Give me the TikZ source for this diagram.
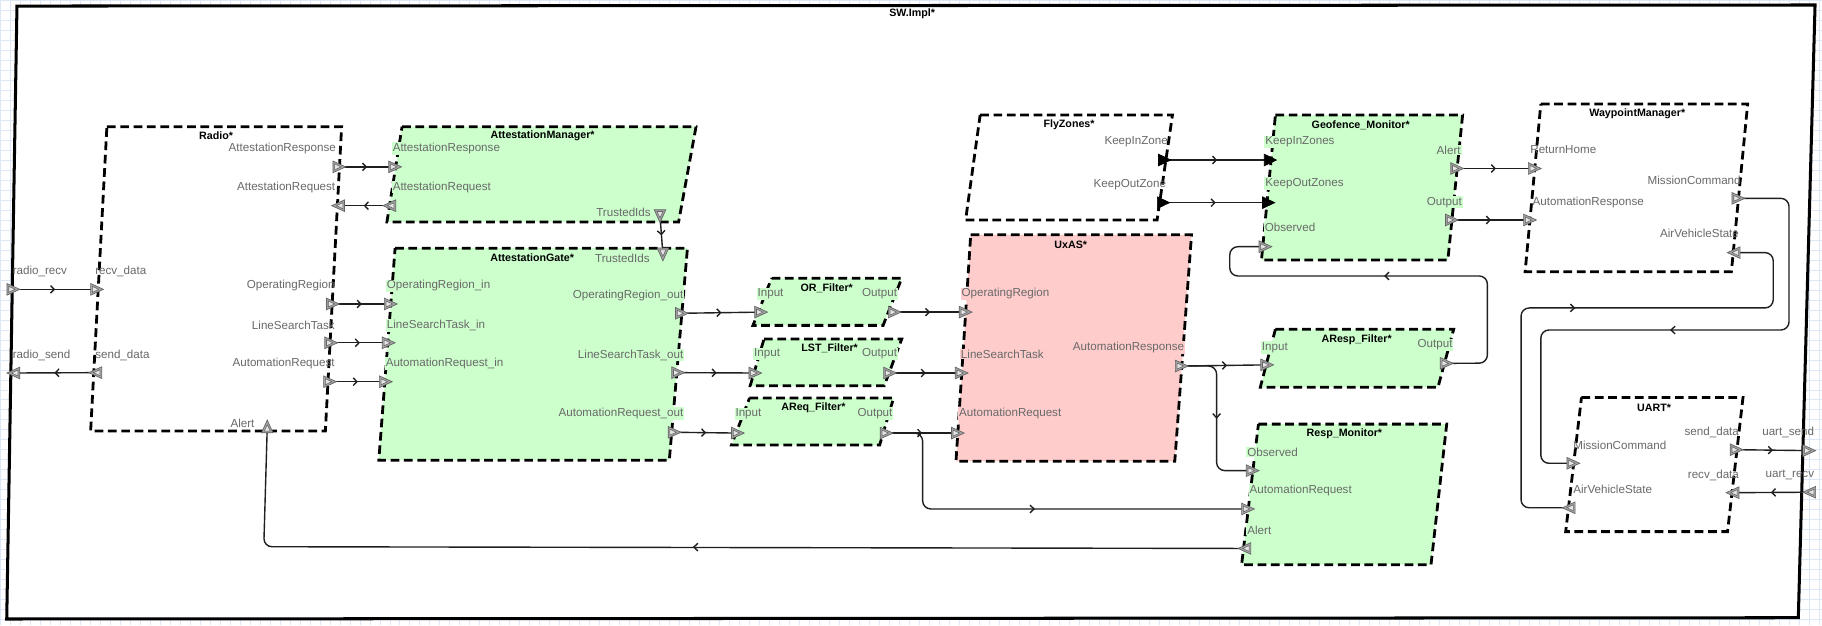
\documentclass[tikz,border=0pt]{standalone}
\usepackage{fontspec}
\setmainfont{Liberation Sans}
\usetikzlibrary{arrows.meta,decorations.markings}
\definecolor{blkgreen}{RGB}{204,255,204}
\definecolor{blkpink}{RGB}{255,204,204}
\definecolor{lblgray}{RGB}{105,105,105}
\definecolor{gridblue}{RGB}{220,232,247}
\definecolor{portfill}{RGB}{165,165,165}
\definecolor{portline}{RGB}{100,100,100}
\tikzset{
  blockbox/.style={draw=black, line width=2.4pt, dash pattern=on 7.5pt off 4pt, line join=miter},
  conn/.style={draw=black!88, line width=1.2pt, rounded corners=7pt},
  midarr/.style={postaction={decorate}, decoration={markings, mark=at position #1 with {\arrow{Straight Barb[length=3.2pt,width=6.6pt]}}}},
  midarr/.default=0.5,
  lbl/.style={text=lblgray, font=\fontsize{10}{12}\selectfont, inner sep=0.8pt},
  lblg/.style={lbl, fill=blkgreen},
  lblp/.style={lbl, fill=blkpink},
  ttl/.style={text=black, font=\bfseries\fontsize{9.2}{11}\selectfont, inner sep=0pt},
  portmk/.pic={
    \filldraw[fill=portfill, draw=portline, line width=0.6pt] (-5.5,-5) -- (5.5,0) -- (-5.5,5) -- cycle;
    \filldraw[fill=white!80!gray, draw=portline, line width=0.5pt] (-4,-2.6) -- (1.5,0) -- (-4,2.6) -- cycle;
  },
  blkmk/.pic={
    \filldraw[fill=black, draw=black, line width=0.6pt] (-5,-5) -- (5.5,0) -- (-5,5) -- cycle;
  },
  chev/.pic={
    \draw[black!88, line width=1.2pt, line join=miter] (-2.6,-3.3) -- (0.9,0) -- (-2.6,3.3);
  },
}
\begin{document}
\begin{tikzpicture}[x=1pt,y=-1pt]
\useasboundingbox (0,0) rectangle (1568,538);
\draw[gridblue, line width=0.4pt, step=8.6pt] (0pt,0pt) grid (1568pt,-538pt);

% ---------- outer frame ----------
\filldraw[fill=white, draw=black, line width=2.6pt, line join=miter] (14.6,5.2) -- (1562,4.3) -- (1547.6,531.6) -- (5.8,532.7) -- cycle;
\node[ttl] (tSW) at (785,11.5) {SW.Impl*};

% ---------- blocks ----------
\filldraw[blockbox, fill=white] (92,109) -- (294,109) -- (280,371) -- (78,371) -- cycle;
\filldraw[blockbox, fill=blkgreen] (346,109) -- (599,109) -- (584,191) -- (333,191) -- cycle;
\filldraw[blockbox, fill=blkgreen] (340,213.6) -- (591.6,213.6) -- (576,396) -- (326,396) -- cycle;
\filldraw[blockbox, fill=blkgreen] (664,239.5) -- (776,239.5) -- (760,280) -- (648,280) -- cycle;
\filldraw[blockbox, fill=blkgreen] (657.5,291.8) -- (776,291.8) -- (761,332) -- (645.6,332) -- cycle;
\filldraw[blockbox, fill=blkgreen] (645,342.6) -- (769,342.6) -- (757,383) -- (629.5,383) -- cycle;
\filldraw[blockbox, fill=blkpink] (835.4,202) -- (1025.4,202) -- (1011,397) -- (822.7,397) -- cycle;
\filldraw[blockbox, fill=white] (843.5,99) -- (1009,99) -- (995.8,189.3) -- (831,189.3) -- cycle;
\filldraw[blockbox, fill=blkgreen] (1097.6,99) -- (1258.7,99) -- (1246,223.8) -- (1085.6,223.8) -- cycle;
\filldraw[blockbox, fill=white] (1326,89.5) -- (1504,89.5) -- (1490,233.8) -- (1312.5,233.8) -- cycle;
\filldraw[blockbox, fill=blkgreen] (1097.6,283.4) -- (1251,283.4) -- (1237.5,333.3) -- (1084.6,333.3) -- cycle;
\filldraw[blockbox, fill=blkgreen] (1083,365) -- (1245,365) -- (1231.5,486) -- (1068.5,486) -- cycle;
\filldraw[blockbox, fill=white] (1361,342) -- (1500,342) -- (1486.7,457.5) -- (1347.4,457.5) -- cycle;

% ---------- titles ----------
\node[ttl] (tRadio) at (186,117) {Radio*};
\node[ttl] (tAM) at (467,117) {AttestationManager*};
\node[ttl] (tAG) at (458,222) {AttestationGate*};
\node[ttl] (tORF) at (711.5,248) {OR\_Filter*};
\node[ttl] (tLSTF) at (714,300) {LST\_Filter*};
\node[ttl] (tARQF) at (700,351) {AReq\_Filter*};
\node[ttl] (tUx) at (921.5,211) {UxAS*};
\node[ttl] (tFZ) at (920,107.6) {FlyZones*};
\node[ttl] (tGM) at (1171,107.6) {Geofence\_Monitor*};
\node[ttl] (tWM) at (1409,98) {WaypointManager*};
\node[ttl] (tARSF) at (1167.5,292) {AResp\_Filter*};
\node[ttl] (tRM) at (1157,373.6) {Resp\_Monitor*};
\node[ttl] (tUART) at (1423.5,351) {UART*};

% ---------- port coordinates ----------
\coordinate (fRRecv) at (11.5,249);   \coordinate (fRSend) at (11.5,321);
\coordinate (fUSend) at (1557,387.8); \coordinate (fURecv) at (1557,423.6);
\coordinate (rAResp) at (292,143.6);  \coordinate (rAReq) at (291,177);
\coordinate (rOR) at (286.5,261.6);   \coordinate (rLST) at (285,295);
\coordinate (rAR) at (284,328.5);     \coordinate (rAlert) at (230,367);
\coordinate (rRecv) at (83.5,249);    \coordinate (rSend) at (82,320.7);
\coordinate (amAResp) at (340,143.6); \coordinate (amAReq) at (335,177);
\coordinate (amTI) at (568,186);
\coordinate (agTI) at (570.5,219);    \coordinate (agORin) at (336.3,261.6);
\coordinate (agLSTin) at (334.5,295); \coordinate (agARin) at (332,328.5);
\coordinate (agORout) at (586.8,269.6); \coordinate (agLSTout) at (583.6,320.7);
\coordinate (agARout) at (580.5,372);
\coordinate (orIn) at (655,268.6);    \coordinate (orOut) at (770,268.6);
\coordinate (lstIn) at (650,321);     \coordinate (lstOut) at (766,321);
\coordinate (arqIn) at (635,372.7);   \coordinate (arqOut) at (763,372.7);
\coordinate (uxOR) at (831,268.6);    \coordinate (uxLST) at (827.6,321);
\coordinate (uxAR) at (824.3,372.7);  \coordinate (uxAResp) at (1017,315);
\coordinate (fzKI) at (1002,137.7);   \coordinate (fzKO) at (1001,174.4);
\coordinate (gmKI) at (1093,137.7);   \coordinate (gmKO) at (1091.5,174.4);
\coordinate (gmObs) at (1089,212.3);  \coordinate (gmAlert) at (1254,145);
\coordinate (gmOut) at (1249.5,189.3);
\coordinate (wmRH) at (1320.8,145);   \coordinate (wmAResp) at (1316.7,189.3);
\coordinate (wmMC) at (1496,170.7);   \coordinate (wmAVS) at (1492,217.4);
\coordinate (arsIn) at (1090.5,314);  \coordinate (arsOut) at (1245,312.7);
\coordinate (rmObs) at (1078,405);    \coordinate (rmAR) at (1074,438);
\coordinate (rmAlert) at (1071,472);
\coordinate (uMC) at (1354,398.7);    \coordinate (uAVS) at (1350,437);
\coordinate (uSend) at (1494.5,387);  \coordinate (uRecv) at (1491,424);

% ---------- connectors ----------
\draw[conn, midarr] (rAResp) -- (amAResp);
\draw[conn, midarr] (amAReq) -- (rAReq);
\draw[conn, midarr] (amTI) -- (agTI);
\draw[conn, midarr] (fRRecv) -- (rRecv);
\draw[conn, midarr] (rSend) -- (fRSend);
\draw[conn, midarr] (rOR) -- (agORin);
\draw[conn, midarr] (rLST) -- (agLSTin);
\draw[conn, midarr] (rAR) -- (agARin);
\draw[conn, midarr] (agORout) -- (orIn);
\draw[conn, midarr] (agLSTout) -- (lstIn);
\draw[conn, midarr] (agARout) -- (arqIn);
\draw[conn, midarr] (orOut) -- (uxOR);
\draw[conn, midarr] (lstOut) -- (uxLST);
\draw[conn, midarr] (arqOut) -- (uxAR);
\draw[conn] (arqOut) -- (794,372.7) -- (794,438) -- (rmAR);
\pic at (889,438) {chev};
\draw[conn, midarr=0.53] (uxAResp) -- (arsIn);
\draw[conn] (uxAResp) -- (1047,315) -- (1047,405) -- (rmObs);
\pic[rotate=-90] at (1047,358.6) {chev};
\draw[conn] (arsOut) -- (1280,312.5) -- (1280,237.5) -- (1058.3,237.5) -- (1058.3,212.3) -- (gmObs);
\pic[rotate=180] at (1192.8,237.5) {chev};
\draw[conn, midarr] (fzKI) -- (gmKI);
\draw[conn, midarr] (fzKO) -- (gmKO);
\draw[conn, midarr] (gmAlert) -- (wmRH);
\draw[conn, midarr] (gmOut) -- (wmAResp);
\draw[conn] (wmMC) -- (1539.6,170.7) -- (1539.6,284) -- (1326,284) -- (1326,398.7) -- (uMC);
\pic[rotate=180] at (1439,284) {chev};
\draw[conn] (uAVS) -- (1309,437) -- (1309,265) -- (1526,265) -- (1526,217.4) -- (wmAVS);
\pic at (1354,265) {chev};
\draw[conn, midarr] (fURecv) -- (uRecv);
\draw[conn, midarr] (uSend) -- (fUSend);
\draw[conn] (rmAlert) -- (227,470.5) -- (rAlert);
\pic[rotate=180] at (598,470.8) {chev};

% ---------- port markers ----------
\foreach \p in {rAResp,rOR,rLST,rAR,rRecv,fRRecv,amAResp,agORin,agLSTin,agARin,agORout,agLSTout,agARout,orIn,orOut,lstIn,lstOut,arqIn,arqOut,uxOR,uxLST,uxAR,uxAResp,gmObs,gmAlert,gmOut,wmRH,wmAResp,wmMC,arsIn,arsOut,rmObs,rmAR,uMC,uSend,fUSend}
  {\pic at (\p) {portmk};}
\foreach \p in {rAReq,amAReq,rSend,fRSend,wmAVS,rmAlert,uAVS,uRecv,fURecv}
  {\pic[rotate=180] at (\p) {portmk};}
\pic[rotate=-90] at (amTI) {portmk};
\pic[rotate=-90] at (agTI) {portmk};
\pic[rotate=90] at (rAlert) {portmk};
\foreach \p in {fzKI,fzKO,gmKI,gmKO}
  {\pic at (\p) {blkmk};}

% ---------- port labels ----------
\node[lbl, anchor=west] (lfRRecv) at (10,234) {radio\_recv};
\node[lbl, anchor=west] (lfRSend) at (10,305.5) {radio\_send};
\node[lbl, anchor=west] (lfUSend) at (1515.6,372) {uart\_send};
\node[lbl, anchor=west] (lfURecv) at (1518.5,409) {uart\_recv};

\node[lbl, anchor=east] (lrAResp) at (290,128) {AttestationResponse};
\node[lbl, anchor=east] (lrAReq) at (289.5,161) {AttestationRequest};
\node[lbl, anchor=east] (lrOR) at (289,246) {OperatingRegion};
\node[lbl, anchor=east] (lrLST) at (289,280) {LineSearchTask};
\node[lbl, anchor=east] (lrAR) at (289,312.6) {AutomationRequest};
\node[lbl, anchor=east] (lrAlert) at (220,364) {Alert};
\node[lbl, anchor=west] (lrRecv) at (81,234) {recv\_data};
\node[lbl, anchor=west] (lrSend) at (81,305.5) {send\_data};

\node[lblg, anchor=west] (lamAResp) at (337,128) {AttestationResponse};
\node[lblg, anchor=west] (lamAReq) at (337,161) {AttestationRequest};
\node[lblg, anchor=east] (lamTI) at (561,183) {TrustedIds};

\node[lblg, anchor=east] (lagTI) at (560,222) {TrustedIds};
\node[lblg, anchor=west] (lagORin) at (332,246) {OperatingRegion\_in};
\node[lblg, anchor=west] (lagLSTin) at (332,280) {LineSearchTask\_in};
\node[lblg, anchor=west] (lagARin) at (331,313) {AutomationRequest\_in};
\node[lblg, anchor=east] (lagORout) at (589,254) {OperatingRegion\_out};
\node[lblg, anchor=east] (lagLSTout) at (589,305.6) {LineSearchTask\_out};
\node[lblg, anchor=east] (lagARout) at (589,356) {AutomationRequest\_out};

\node[lblg, anchor=west] (lorIn) at (651,253) {Input};
\node[lblg, anchor=east] (lorOut) at (773,253) {Output};
\node[lblg, anchor=west] (llstIn) at (648,304.6) {Input};
\node[lblg, anchor=east] (llstOut) at (773,304.6) {Output};
\node[lblg, anchor=west] (larqIn) at (632,356) {Input};
\node[lblg, anchor=east] (larqOut) at (769,356) {Output};

\node[lblp, anchor=west] (luxOR) at (826.5,253) {OperatingRegion};
\node[lblp, anchor=west] (luxLST) at (826,304.6) {LineSearchTask};
\node[lblp, anchor=west] (luxAR) at (824.5,356) {AutomationRequest};
\node[lblp, anchor=east] (luxAResp) at (1020,299) {AutomationResponse};

\node[lbl, anchor=east] (lfzKI) at (1006,122) {KeepInZone};
\node[lbl, anchor=east] (lfzKO) at (1004.5,158.5) {KeepOutZone};

\node[lblg, anchor=west] (lgmKI) at (1088,122) {KeepInZones};
\node[lblg, anchor=west] (lgmKO) at (1088,158) {KeepOutZones};
\node[lblg, anchor=west] (lgmObs) at (1087.5,195.4) {Observed};
\node[lblg, anchor=east] (lgmAlert) at (1258,129) {Alert};
\node[lblg, anchor=east] (lgmOut) at (1259,174) {Output};

\node[lbl, anchor=west] (lwmRH) at (1316,129) {ReturnHome};
\node[lbl, anchor=west] (lwmAResp) at (1318,174.4) {AutomationResponse};
\node[lbl, anchor=east] (lwmMC) at (1499,155.5) {MissionCommand};
\node[lbl, anchor=east] (lwmAVS) at (1497.5,200.6) {AirVehicleState};

\node[lblg, anchor=west] (larsIn) at (1085,299) {Input};
\node[lblg, anchor=east] (larsOut) at (1251,297) {Output};

\node[lblg, anchor=west] (lrmObs) at (1072.5,389) {Observed};
\node[lblg, anchor=west] (lrmAR) at (1074.5,422) {AutomationRequest};
\node[lblg, anchor=west] (lrmAlert) at (1072.5,456) {Alert};

\node[lbl, anchor=west] (luMC) at (1353,383) {MissionCommand};
\node[lbl, anchor=west] (luAVS) at (1353,421) {AirVehicleState};
\node[lbl, anchor=east] (luSend) at (1497.5,372) {send\_data};
\node[lbl, anchor=east] (luRecv) at (1497.5,408.8) {recv\_data};
\end{tikzpicture}
\end{document}
